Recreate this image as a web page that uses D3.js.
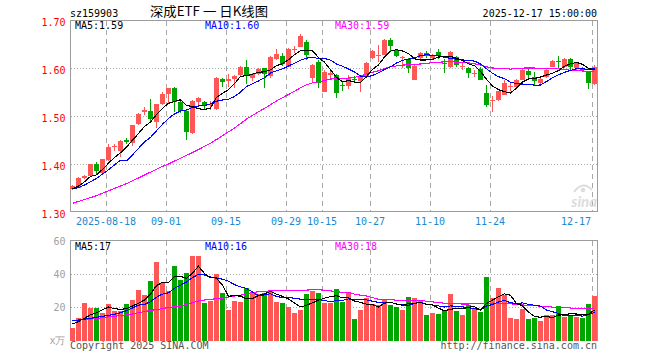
<!DOCTYPE html>
<html><head><meta charset="utf-8">
<script src="https://cdn.jsdelivr.net/npm/d3@7/dist/d3.min.js"></script>
<style>html,body{margin:0;padding:0;background:#fff;} svg{display:block}</style>
</head><body><svg id="c" width="660" height="360"></svg>
<script>
// ---- data (index 0 = first visible trading day) ----
const opens = [1.347,1.351,1.371,1.375,1.401,1.382,1.408,1.435,1.428,1.449,
1.444,1.483,1.509,1.511,1.488,1.524,1.545,1.559,1.530,1.510,
1.464,1.530,1.529,1.522,1.515,1.577,1.572,1.577,1.585,1.603,
1.580,1.588,1.600,1.584,1.619,1.626,1.603,1.637,1.644,1.655,
1.580,1.613,1.551,1.586,1.585,1.564,1.563,1.578,1.572,1.582,
1.620,1.625,1.628,1.658,1.638,1.620,1.618,1.576,1.620,1.632,
1.621,1.634,1.611,1.603,1.622,1.602,1.599,1.588,1.597,1.547,
1.532,1.533,1.544,1.560,1.560,1.576,1.594,1.581,1.568,1.581,
1.603,1.614,1.603,1.618,1.600,1.599,1.592,1.567];
const closes = [1.354,1.371,1.376,1.400,1.386,1.410,1.436,1.437,1.448,1.446,
1.481,1.505,1.512,1.493,1.525,1.545,1.558,1.530,1.511,1.467,
1.531,1.537,1.522,1.526,1.580,1.570,1.577,1.584,1.603,1.585,
1.587,1.597,1.588,1.623,1.629,1.608,1.639,1.639,1.667,1.628,
1.607,1.568,1.591,1.589,1.547,1.562,1.580,1.576,1.583,1.610,
1.636,1.627,1.658,1.645,1.625,1.622,1.600,1.604,1.632,1.626,
1.627,1.625,1.609,1.634,1.606,1.604,1.590,1.590,1.576,1.523,
1.534,1.552,1.568,1.562,1.575,1.596,1.585,1.572,1.578,1.596,
1.615,1.612,1.618,1.603,1.610,1.596,1.568,1.602];
const highs = [1.357,1.373,1.378,1.401,1.405,1.411,1.442,1.442,1.450,1.454,
1.482,1.507,1.519,1.535,1.526,1.551,1.558,1.561,1.532,1.512,
1.533,1.540,1.531,1.531,1.581,1.580,1.587,1.585,1.604,1.617,
1.590,1.599,1.601,1.626,1.640,1.631,1.642,1.646,1.670,1.658,
1.609,1.617,1.596,1.598,1.588,1.570,1.585,1.584,1.585,1.612,
1.638,1.648,1.660,1.662,1.640,1.624,1.620,1.606,1.634,1.636,
1.630,1.640,1.618,1.636,1.624,1.610,1.603,1.596,1.603,1.565,
1.542,1.553,1.576,1.571,1.577,1.597,1.599,1.592,1.580,1.598,
1.617,1.624,1.620,1.621,1.612,1.602,1.594,1.606];
const lows = [1.345,1.349,1.369,1.373,1.379,1.380,1.407,1.428,1.414,1.442,
1.437,1.482,1.502,1.490,1.474,1.523,1.527,1.508,1.507,1.450,
1.462,1.523,1.512,1.512,1.513,1.561,1.561,1.558,1.584,1.566,
1.572,1.585,1.559,1.580,1.617,1.604,1.602,1.631,1.643,1.617,
1.568,1.558,1.550,1.576,1.538,1.553,1.557,1.570,1.551,1.580,
1.618,1.613,1.627,1.636,1.622,1.600,1.590,1.574,1.618,1.620,
1.618,1.618,1.590,1.600,1.603,1.596,1.580,1.581,1.575,1.518,
1.509,1.531,1.543,1.553,1.558,1.575,1.575,1.565,1.566,1.580,
1.602,1.601,1.601,1.596,1.594,1.592,1.556,1.565];
const volumes = [7.8,13.6,22.8,19.8,19.8,16.6,22.0,17.8,17.8,22.0,
24.4,30.4,27.4,35.8,47.2,34.8,30.0,45.0,36.4,40.6,
50.8,50.8,22.8,23.8,40.0,28.6,18.4,23.8,23.2,31.4,
29.4,28.2,28.4,30.4,23.2,22.8,20.2,16.8,18.4,28.0,
30.0,28.6,22.8,22.8,31.0,23.4,29.0,13.0,18.6,25.8,
22.2,21.4,24.6,21.4,20.4,18.6,26.2,25.6,23.6,15.4,
16.8,16.2,17.8,28.2,17.8,15.4,21.4,19.2,17.4,38.2,
25.6,31.6,27.6,13.6,13.0,19.0,13.2,13.6,11.8,15.4,
15.4,20.8,14.2,15.4,14.2,13.6,22.0,27.0];
// moving-average values on the first days (their windows start before the visible range)
const ma5Head  = [1.348,1.354,1.363,1.374];
const ma10Head = [1.348,1.351,1.356,1.363,1.370,1.379,1.388,1.398,1.408];
const ma30Head = [1.318,1.322,1.326,1.330,1.334,1.339,1.344,1.349,1.354,1.359,1.365,1.371,1.377,1.383,1.389,1.395,1.400,1.406,1.412,1.418,1.424,1.430,1.437,1.443,1.451,1.459,1.467,1.475,1.484];
const vma5Head  = [10.0,11.5,13.5,15.5];
const vma10Head = [12.0,12.4,12.9,13.4,14.0,14.6,15.2,15.9,16.8];
const vma30Head = [12.1,12.4,12.7,13.0,13.3,13.8,14.3,14.7,15.1,15.4,16.0,16.8,17.5,18.2,18.6,19.3,19.9,20.4,20.8,21.8,22.8,23.8,24.4,24.8,25.2,25.6,26.2,26.8,27.3];
const tickIndex  = [6,16,26,36,42,50,60,70,87];
const tickLabels = ['2025-08-18','09-01','09-15','09-29','10-15','10-27','11-10','11-24','12-17'];
const priceTicks = [1.30,1.40,1.50,1.60,1.70];
const volTicks = [20,40,60];
const priceHeader = ['MA5:1.59','MA10:1.60','MA30:1.59'];
const volHeader = ['MA5:17','MA10:16','MA30:18'];
const maColors = ['#000000','#0000ff','#ff00ff'];

// ---- drawing ----
const svg = d3.select('#c');
const MONO = "'DejaVu Sans Mono','Liberation Mono',monospace";
const RED = '#ff5656', GREEN = '#00a600', GRID = '#a8a8a8', FRAME = '#9c9c9c';
const n = closes.length;
const x = d3.scaleBand().domain(d3.range(n)).range([70, 70 + 6 * n])
  .paddingInner(1/6).paddingOuter(1/12).align(0);
const yP = d3.scaleLinear().domain([1.30, 1.70]).range([212, 20]);
const yV = d3.scaleLinear().domain([0, 60]).range([340.7, 240.7]);
const L = 70.5, R = 597.5;

function movAvg(arr, k, head) {
  return arr.map((_, i) => i < k - 1 ? head[i] : d3.mean(arr.slice(i - k + 1, i + 1)));
}
const up = d3.range(n).map(i => closes[i] >= opens[i]);

// grids
const g = svg.append('g').attr('shape-rendering', 'crispEdges');
priceTicks.filter(t => t > 1.3 && t < 1.7).forEach(t => {
  const yy = Math.round(yP(t)) + 0.5;
  g.append('line').attr('x1', L).attr('x2', R).attr('y1', yy).attr('y2', yy)
    .attr('stroke', GRID).attr('stroke-dasharray', '1,2');
});
volTicks.filter(t => t < 60).forEach(t => {
  const yy = Math.round(yV(t)) + 0.5;
  g.append('line').attr('x1', L).attr('x2', R).attr('y1', yy).attr('y2', yy)
    .attr('stroke', GRID).attr('stroke-dasharray', '1,2');
});
tickIndex.forEach(i => {
  const xx = x(i) + 0.5;
  g.append('line').attr('x1', xx).attr('x2', xx).attr('y1', 21).attr('y2', 211)
    .attr('stroke', GRID).attr('stroke-dasharray', '5,4');
  g.append('line').attr('x1', xx).attr('x2', xx).attr('y1', 241).attr('y2', 341)
    .attr('stroke', GRID).attr('stroke-dasharray', '5,4');
});

// watermark (sina logo)
const wm = svg.append('g').attr('fill', 'none').attr('stroke', '#dcdcdc').attr('stroke-width', 2);
wm.append('path').attr('d', 'M574,192 Q583,180 592,190');
wm.append('circle').attr('cx', 583).attr('cy', 190).attr('r', 2.2).attr('fill', '#dcdcdc').attr('stroke', 'none');
svg.append('text').attr('x', 597).attr('y', 207).attr('text-anchor', 'end')
  .attr('font-family', 'Lato, sans-serif').attr('font-style', 'italic').attr('font-weight', 'bold')
  .attr('font-size', 15).attr('fill', '#dcdcdc').text('sina');

// frames
svg.append('path').attr('d', `M${L},211.5V20.5H${R}V211.5H${L}`).attr('fill', 'none')
  .attr('stroke', FRAME).attr('shape-rendering', 'crispEdges');
svg.append('path').attr('d', `M${L},341V240.5H${R}V341`).attr('fill', 'none')
  .attr('stroke', FRAME).attr('shape-rendering', 'crispEdges');

// candles + volume bars
const cg = svg.append('g').attr('shape-rendering', 'crispEdges');
d3.range(n).forEach(i => {
  const col = up[i] ? RED : GREEN;
  const cx = x(i) + 2.5;
  cg.append('line').attr('x1', cx).attr('x2', cx).attr('y1', yP(highs[i])).attr('y2', yP(lows[i]))
    .attr('stroke', col);
  const y0 = yP(Math.max(opens[i], closes[i])), y1 = yP(Math.min(opens[i], closes[i]));
  cg.append('rect').attr('x', x(i)).attr('width', x.bandwidth())
    .attr('y', y0).attr('height', Math.max(1, y1 - y0)).attr('fill', col);
  cg.append('rect').attr('x', x(i)).attr('width', x.bandwidth())
    .attr('y', yV(volumes[i])).attr('height', yV(0) - yV(volumes[i])).attr('fill', col);
});

// moving-average lines
const priceMAs = [movAvg(closes, 5, ma5Head), movAvg(closes, 10, ma10Head), movAvg(closes, 30, ma30Head)];
const volMAs = [movAvg(volumes, 5, vma5Head), movAvg(volumes, 10, vma10Head), movAvg(volumes, 30, vma30Head)];
const lineP = d3.line().x((d, i) => x(i) + 2.5).y(d => yP(d));
const lineV = d3.line().x((d, i) => x(i) + 2.5).y(d => yV(d));
[2, 1, 0].forEach(k => {
  svg.append('path').attr('d', lineP(priceMAs[k])).attr('fill', 'none').attr('stroke', maColors[k])
    .attr('stroke-width', 1.1).attr('shape-rendering', 'crispEdges');
  svg.append('path').attr('d', lineV(volMAs[k])).attr('fill', 'none').attr('stroke', maColors[k])
    .attr('stroke-width', 1.1).attr('shape-rendering', 'crispEdges');
});

// texts
const T = (xx, yy, s, fill, anchor) => svg.append('text').attr('x', xx).attr('y', yy)
  .attr('font-family', MONO).attr('font-size', 10).attr('fill', fill)
  .attr('text-anchor', anchor || 'start').text(s);

T(70, 16.5, 'sz159903', '#000');
svg.append('text').attr('x', 150).attr('y', 16).attr('font-family', "'Noto Sans CJK SC', sans-serif")
  .attr('font-size', 13).attr('fill', '#000').attr('textLength', 118).attr('lengthAdjust', 'spacingAndGlyphs')
  .attr('xml:space', 'preserve').text('深成ETF 一 日K线图');
T(597, 16.5, '2025-12-17 15:00:00', '#000', 'end');

const hx = [75, 205, 335];
priceHeader.forEach((s, k) => T(hx[k], 29.3, s, maColors[k]));
volHeader.forEach((s, k) => T(hx[k], 250, s, maColors[k]));

priceTicks.forEach(t => T(65.5, yP(t) + 5.5, t.toFixed(2), '#ff0000', 'end'));
volTicks.forEach(t => T(65.5, yV(t) + 3.8, String(t), '#a0a0a0', 'end'));
T(65.5, 344, 'x万', '#a0a0a0', 'end');

tickIndex.forEach((i, k) => {
  const last = k === tickIndex.length - 1;
  T(last ? 591 : x(i), 224.8, tickLabels[k], '#1a88d2', last ? 'end' : 'middle');
});

T(70, 348.5, 'Copyright 2025 SINA.COM', '#555');
T(597, 348.5, 'http://finance.sina.com.cn', '#555', 'end');
</script></body></html>
